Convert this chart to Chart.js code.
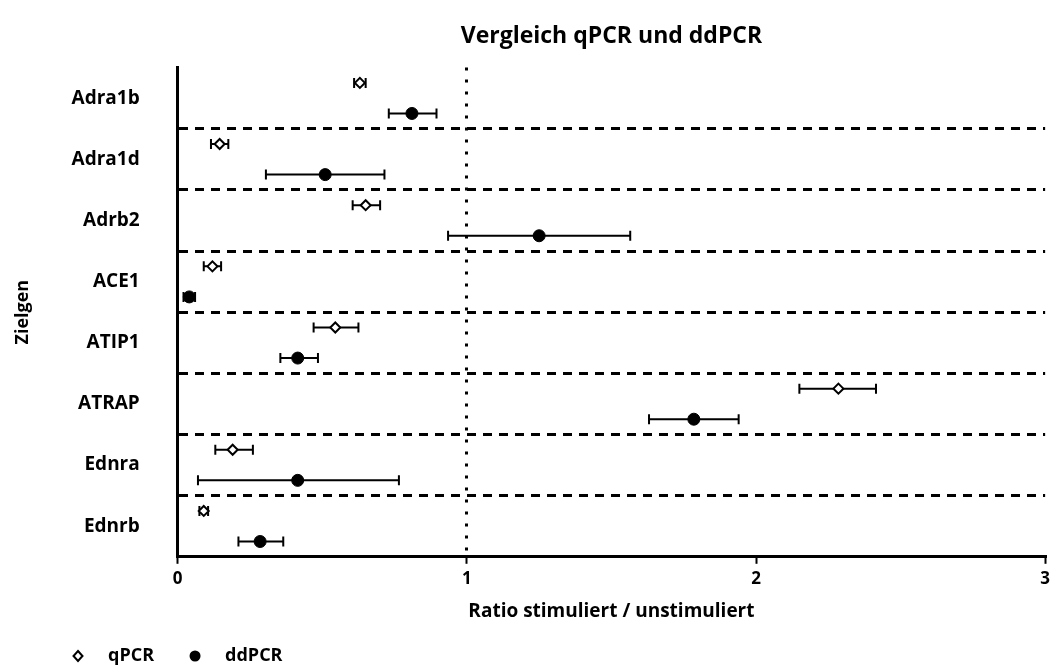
<!DOCTYPE html>
<html>
<head>
<meta charset="utf-8">
<script src="https://cdn.jsdelivr.net/npm/chart.js@4.4.0/dist/chart.umd.min.js"></script>
<style>
  body { margin: 0; background: #fff; }
  #wrap { width: 1055px; height: 666px; }
</style>
</head>
<body>
<div id="wrap"><canvas id="chart"></canvas></div>
<script>
// Zielgene (von oben nach unten)
const genes = ["Adra1b", "Adra1d", "Adrb2", "ACE1", "ATIP1", "ATRAP", "Ednra", "Ednrb"];

// qPCR: Mittelwert + Fehlerbalken
const qpcrMean = [0.63, 0.145, 0.65, 0.12, 0.545, 2.285, 0.19, 0.09];
const qpcrLow  = [0.61, 0.115, 0.605, 0.09, 0.47, 2.15, 0.13, 0.075];
const qpcrHigh = [0.65, 0.175, 0.70, 0.15, 0.625, 2.415, 0.26, 0.105];

// ddPCR: Mittelwert + Fehlerbalken
const ddpcrMean = [0.81, 0.51, 1.25, 0.04, 0.415, 1.785, 0.415, 0.285];
const ddpcrLow  = [0.73, 0.305, 0.935, 0.02, 0.355, 1.63, 0.07, 0.21];
const ddpcrHigh = [0.895, 0.715, 1.565, 0.06, 0.485, 1.94, 0.765, 0.365];

const xTicks = [0, 1, 2, 3];

const font = "'Open Sans', Lato, sans-serif";

function points(means, shift) {
    return means.map((v, i) => ({ x: v, y: i + shift }));
}

const data = {
    datasets: [
        {
            label: "qPCR",
            data: points(qpcrMean, -0.25),
            low: qpcrLow,
            high: qpcrHigh,
            pointStyle: "rectRot",
            pointRadius: 5,
            pointBorderWidth: 2,
            pointBackgroundColor: "#fff",
            pointBorderColor: "#000",
        },
        {
            label: "ddPCR",
            data: points(ddpcrMean, 0.25),
            low: ddpcrLow,
            high: ddpcrHigh,
            pointStyle: "circle",
            pointRadius: 6,
            pointBorderWidth: 1,
            pointBackgroundColor: "#000",
            pointBorderColor: "#000",
        }
    ]
};

// Fehlerbalken mit Kappen
const errorBars = {
    id: "errorBars",
    beforeDatasetsDraw(chart) {
        const ctx = chart.ctx;
        const xs = chart.scales.x;
        const ys = chart.scales.y;
        ctx.save();
        ctx.strokeStyle = "#000";
        ctx.lineWidth = 2;
        chart.data.datasets.forEach(ds => {
            ds.data.forEach((p, i) => {
                const y = ys.getPixelForValue(p.y);
                const x1 = xs.getPixelForValue(ds.low[i]);
                const x2 = xs.getPixelForValue(ds.high[i]);
                ctx.beginPath();
                ctx.moveTo(x1, y); ctx.lineTo(x2, y);
                ctx.moveTo(x1, y - 5); ctx.lineTo(x1, y + 5);
                ctx.moveTo(x2, y - 5); ctx.lineTo(x2, y + 5);
                ctx.stroke();
            });
        });
        ctx.restore();
    }
};

// eigene Legende unten links
const bottomLegend = {
    id: "bottomLegend",
    afterDraw(chart) {
        const ctx = chart.ctx;
        const y = chart.height - 10;
        let x = 78;
        ctx.save();
        ctx.font = "bold 18px " + font;
        ctx.textBaseline = "middle";
        chart.data.datasets.forEach(ds => {
            ctx.fillStyle = ds.pointBackgroundColor;
            ctx.strokeStyle = "#000";
            ctx.lineWidth = 2;
            ctx.beginPath();
            if (ds.pointStyle === "rectRot") {
                ctx.moveTo(x, y - 5); ctx.lineTo(x + 4.5, y);
                ctx.lineTo(x, y + 5); ctx.lineTo(x - 4.5, y);
                ctx.closePath();
            } else {
                ctx.arc(x, y, 4.5, 0, Math.PI * 2);
            }
            ctx.fill();
            ctx.stroke();
            ctx.fillStyle = "#000";
            ctx.fillText(ds.label, x + 30, y);
            x += 30 + ctx.measureText(ds.label).width + 41;
        });
        ctx.restore();
    }
};

const config = {
    type: "scatter",
    data: data,
    options: {
        responsive: true,
        maintainAspectRatio: false,
        animation: false,
        layout: { padding: { left: 12, right: 6, top: 23, bottom: 39 } },
        plugins: {
            legend: { display: false },
            tooltip: { enabled: false }
        },
        scales: {
            top: {
                type: "linear",
                position: "top",
                min: 0, max: 3,
                grid: { display: false },
                border: { display: false },
                ticks: { display: false },
                title: {
                    display: true,
                    text: "Vergleich qPCR und ddPCR",
                    color: "#000",
                    font: { family: font, size: 23, weight: "bold" },
                    padding: { top: 0, bottom: 9 }
                }
            },
            x: {
                type: "linear",
                min: 0, max: 3,
                afterBuildTicks: axis => { axis.ticks = xTicks.map(v => ({ value: v })); },
                grid: {
                    color: c => c.tick && c.tick.value === 1 ? "#000" : "rgba(0,0,0,0)",
                    lineWidth: 3,
                    tickColor: "#000",
                    tickLength: 7,
                    tickWidth: 2,
                    tickBorderDash: []
                },
                border: { display: true, color: "#000", width: 3, dash: [3, 9] },
                ticks: {
                    color: "#000",
                    padding: 5,
                    font: { family: font, size: 17, weight: "bold" }
                },
                title: {
                    display: true,
                    text: "Ratio stimuliert / unstimuliert",
                    color: "#000",
                    font: { family: font, size: 19, weight: "bold" },
                    padding: { top: 6, bottom: 4 }
                }
            },
            y: {
                type: "linear",
                reverse: true,
                min: -0.5, max: 7.5,
                afterBuildTicks: axis => {
                    const t = [];
                    for (let v = -0.5; v <= 7.5; v += 0.5) t.push({ value: v });
                    axis.ticks = t;
                },
                grid: {
                    color: c => {
                        const v = c.tick ? c.tick.value : 0;
                        return (v % 1 !== 0 && v > 0 && v < 7) ? "#000" : "rgba(0,0,0,0)";
                    },
                    lineWidth: 3,
                    drawTicks: false
                },
                border: { display: true, color: "#000", width: 3, dash: [9, 7] },
                ticks: {
                    autoSkip: false,
                    color: "#000",
                    padding: 38,
                    font: { family: font, size: 19, weight: "bold" },
                    callback: v => Number.isInteger(v) ? genes[v] : ""
                },
                title: {
                    display: true,
                    text: "Zielgen",
                    color: "#000",
                    font: { family: font, size: 18, weight: "bold" },
                    padding: { top: 0, bottom: 0 }
                }
            }
        }
    },
    plugins: [errorBars, bottomLegend]
};

const chart = new Chart(document.getElementById("chart"), config);
</script>
</body>
</html>
